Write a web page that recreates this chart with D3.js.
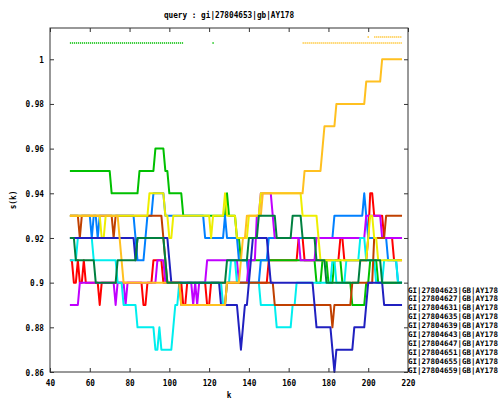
<!DOCTYPE html>
<html>
<head>
<meta charset="utf-8">
<script src="https://cdn.jsdelivr.net/npm/d3@7"></script>
<style>
  body { margin: 0; background: #fff; }
  text { font-family: "DejaVu Sans Mono", "Liberation Mono", monospace; font-weight: bold; fill: #000; }
</style>
</head>
<body>
<svg id="chart" width="504" height="403"></svg>
<script>
// ---- data -------------------------------------------------------------
const title = "query : gi|27804653|gb|AY178";
const xLabel = "k";
const yLabel = "s(k)";

const xTicks = [40, 60, 80, 100, 120, 140, 160, 180, 200, 220];
const yTicks = [0.86, 0.88, 0.9, 0.92, 0.94, 0.96, 0.98, 1];
const yTickLabels = ["0.86", "0.88", "0.9", "0.92", "0.94", "0.96", "0.98", "1"];

const seriesNames = [
  "GI|27804623|GB|AY178", "GI|27804627|GB|AY178", "GI|27804631|GB|AY178",
  "GI|27804635|GB|AY178", "GI|27804639|GB|AY178", "GI|27804643|GB|AY178",
  "GI|27804647|GB|AY178", "GI|27804651|GB|AY178", "GI|27804655|GB|AY178",
  "GI|27804659|GB|AY178"
];
const seriesColors = ["#ff0000", "#00c000", "#0080ff", "#c000ff", "#00eeee",
                      "#c04000", "#eeee00", "#2020c0", "#ffc020", "#008040"];

const kFirst = 50, kLast = 217;

// Each series is a list of runs: [first k of the run, s(k) in hundredths].
// A run lasts until the k before the next run starts.
const s623 = [[50,91],[52,90],[54,91],[55,90],[57,91],[58,90],[65,89],[66,90],[87,89],[89,90],[92,91],[97,90],[107,89],[109,90],[119,89],[121,90],[150,91],[165,92],[168,91],[186,92],[188,91],[200,92],[201,94],[203,93],[208,92],[213,91]];
const s627 = [[50,95],[71,94],[85,95],[93,96],[98,95],[100,94],[107,93],[129,94],[130,93],[134,92],[136,91],[174,90],[177,91],[180,90],[183,91],[187,90],[192,89],[199,90],[201,91],[205,90]];
const s631 = [[50,93],[61,92],[62,93],[64,92],[65,93],[83,92],[84,91],[88,92],[89,93],[92,94],[98,93],[118,92],[128,93],[129,92],[135,91],[140,90],[146,91],[150,92],[183,93],[198,94],[199,93],[200,92],[210,91],[215,90]];
const s635 = [[50,89],[55,90],[73,89],[74,90],[78,89],[79,90],[94,91],[98,90],[112,89],[113,90],[114,89],[115,90],[119,91],[135,90],[140,91],[144,93],[146,94],[152,93],[153,92],[166,91],[174,92],[199,93],[207,92]];
const s639 = [[50,91],[54,92],[62,91],[74,90],[77,89],[84,88],[93,87],[95,88],[96,87],[102,88],[103,89],[105,90],[127,89],[129,90],[131,91],[134,90],[146,89],[154,88],[162,89],[164,90],[182,91],[184,90],[189,91],[196,92],[199,91],[204,90],[208,91],[215,90]];
const s643 = [[50,93],[55,92],[56,93],[72,92],[73,93],[97,92],[98,91],[99,90],[106,89],[129,90],[153,89],[182,88],[183,89],[192,90],[203,92],[209,93]];
const s647 = [[50,93],[66,92],[68,93],[90,94],[98,93],[100,92],[102,93],[121,92],[122,93],[128,94],[129,93],[134,92],[140,93],[146,94],[167,93],[175,92],[176,91],[200,92],[201,93],[203,92],[205,91]];
const s651 = [[50,92],[83,91],[84,92],[100,91],[101,90],[126,89],[135,88],[136,87],[137,88],[138,89],[140,90],[141,91],[142,92],[150,91],[151,90],[173,89],[174,88],[182,87],[183,86],[184,87],[193,88],[199,89],[200,90],[208,89]];
const s655 = [[50,93],[75,92],[76,91],[77,90],[106,89],[129,90],[136,91],[137,92],[139,93],[147,94],[168,95],[177,96],[178,97],[184,98],[199,99],[207,100]];
const s659 = [[50,92],[53,91],[63,90],[74,91],[84,92],[98,91],[99,90],[129,91],[140,92],[145,93],[154,92],[162,93],[167,92],[174,91],[179,90],[196,91],[207,90]];

const allSeries = [s623, s627, s631, s635, s639, s643, s647, s651, s655, s659];

// Dotted strips above the curves: [color index, level, first k, last k]
const topStrips = [
  [1, 1.0073, 50, 107],
  [1, 1.0073, 122, 122],
  [8, 1.0073, 167, 217],
  [8, 1.0100, 200, 200],
  [8, 1.0100, 203, 217]
];

// ---- layout -----------------------------------------------------------
const svg = d3.select("#chart");
const plotLeft = 50, plotRight = 408, plotTop = 28, plotBottom = 372;

const x = d3.scaleLinear().domain([40, 220]).range([plotLeft, plotRight]);
const y = d3.scaleLinear().domain([0.86, 1.014]).range([plotBottom, plotTop]);

function fixedText(sel, str, charW = 4.65, size = 9.5) {
  sel.text(str)
     .attr("font-size", size)
     .attr("textLength", str.length * charW)
     .attr("lengthAdjust", "spacingAndGlyphs");
  return sel;
}

// curves
function runsToPoints(runs) {
  const pts = [];
  runs.forEach((r, i) => {
    const end = i + 1 < runs.length ? runs[i + 1][0] - 1 : kLast;
    pts.push([r[0], r[1] / 100]);
    if (end > r[0]) pts.push([end, r[1] / 100]);
  });
  return pts;
}

const line = d3.line().x(d => x(d[0])).y(d => y(d[1]));

const curves = svg.append("g");
allSeries.forEach((runs, i) => {
  curves.append("path")
    .attr("d", line(runsToPoints(runs)))
    .attr("fill", "none")
    .attr("stroke", seriesColors[i])
    .attr("stroke-width", 2)
    .attr("stroke-linejoin", "round");
});

// dotted strips
topStrips.forEach(([ci, lev, k0, k1]) => {
  const a = k0 === k1 ? k0 - 0.35 : k0;
  const b = k0 === k1 ? k1 + 0.35 : k1;
  svg.append("line")
    .attr("x1", x(a)).attr("x2", x(b))
    .attr("y1", y(lev)).attr("y2", y(lev))
    .attr("stroke", seriesColors[ci])
    .attr("stroke-width", 1.6)
    .attr("stroke-dasharray", k0 === k1 ? null : "1.2 0.8");
});

// frame
svg.append("rect")
  .attr("x", plotLeft).attr("y", plotTop)
  .attr("width", plotRight - plotLeft).attr("height", plotBottom - plotTop)
  .attr("fill", "none").attr("stroke", "#333").attr("stroke-width", 1);

// axes with inward ticks, mirrored on the opposite sides
const tickLen = 4;
const axB = svg.append("g").attr("transform", `translate(0,${plotBottom})`)
  .call(d3.axisBottom(x).tickValues(xTicks).tickSizeInner(-tickLen).tickSizeOuter(0).tickPadding(7).tickFormat(d3.format("d")));
const axT = svg.append("g").attr("transform", `translate(0,${plotTop})`)
  .call(d3.axisTop(x).tickValues(xTicks).tickSizeInner(-tickLen).tickSizeOuter(0).tickFormat(""));
const axL = svg.append("g").attr("transform", `translate(${plotLeft},0)`)
  .call(d3.axisLeft(y).tickValues(yTicks).tickSizeInner(-tickLen).tickSizeOuter(0).tickPadding(6).tickFormat((d, i) => yTickLabels[i]));
const axR = svg.append("g").attr("transform", `translate(${plotRight},0)`)
  .call(d3.axisRight(y).tickValues(yTicks).tickSizeInner(-tickLen).tickSizeOuter(0).tickFormat(""));

[axB, axT, axL, axR].forEach(g => {
  g.select(".domain").remove();
  g.selectAll(".tick line").attr("stroke", "#333");
});
[axB, axL].forEach(g => {
  g.attr("font-size", null).attr("font-family", null);
  g.selectAll(".tick text")
    .each(function () { fixedText(d3.select(this), d3.select(this).text()); });
});

// title and axis labels
fixedText(svg.append("text")
  .attr("x", (plotLeft + plotRight) / 2).attr("y", 18)
  .attr("text-anchor", "middle"), title);

fixedText(svg.append("text")
  .attr("x", 229).attr("y", 398)
  .attr("text-anchor", "middle"), xLabel);

fixedText(svg.append("text")
  .attr("transform", `translate(16,${(plotTop + plotBottom) / 2}) rotate(-90)`)
  .attr("text-anchor", "middle"), yLabel);

// key, one row per series, set close against the right edge of the frame
const key = svg.append("g");
seriesNames.forEach((name, i) => {
  fixedText(key.append("text")
    .attr("x", 408).attr("y", 292.5 + i * 8.95), name, 4.5, 7.6);
});
</script>
</body>
</html>
